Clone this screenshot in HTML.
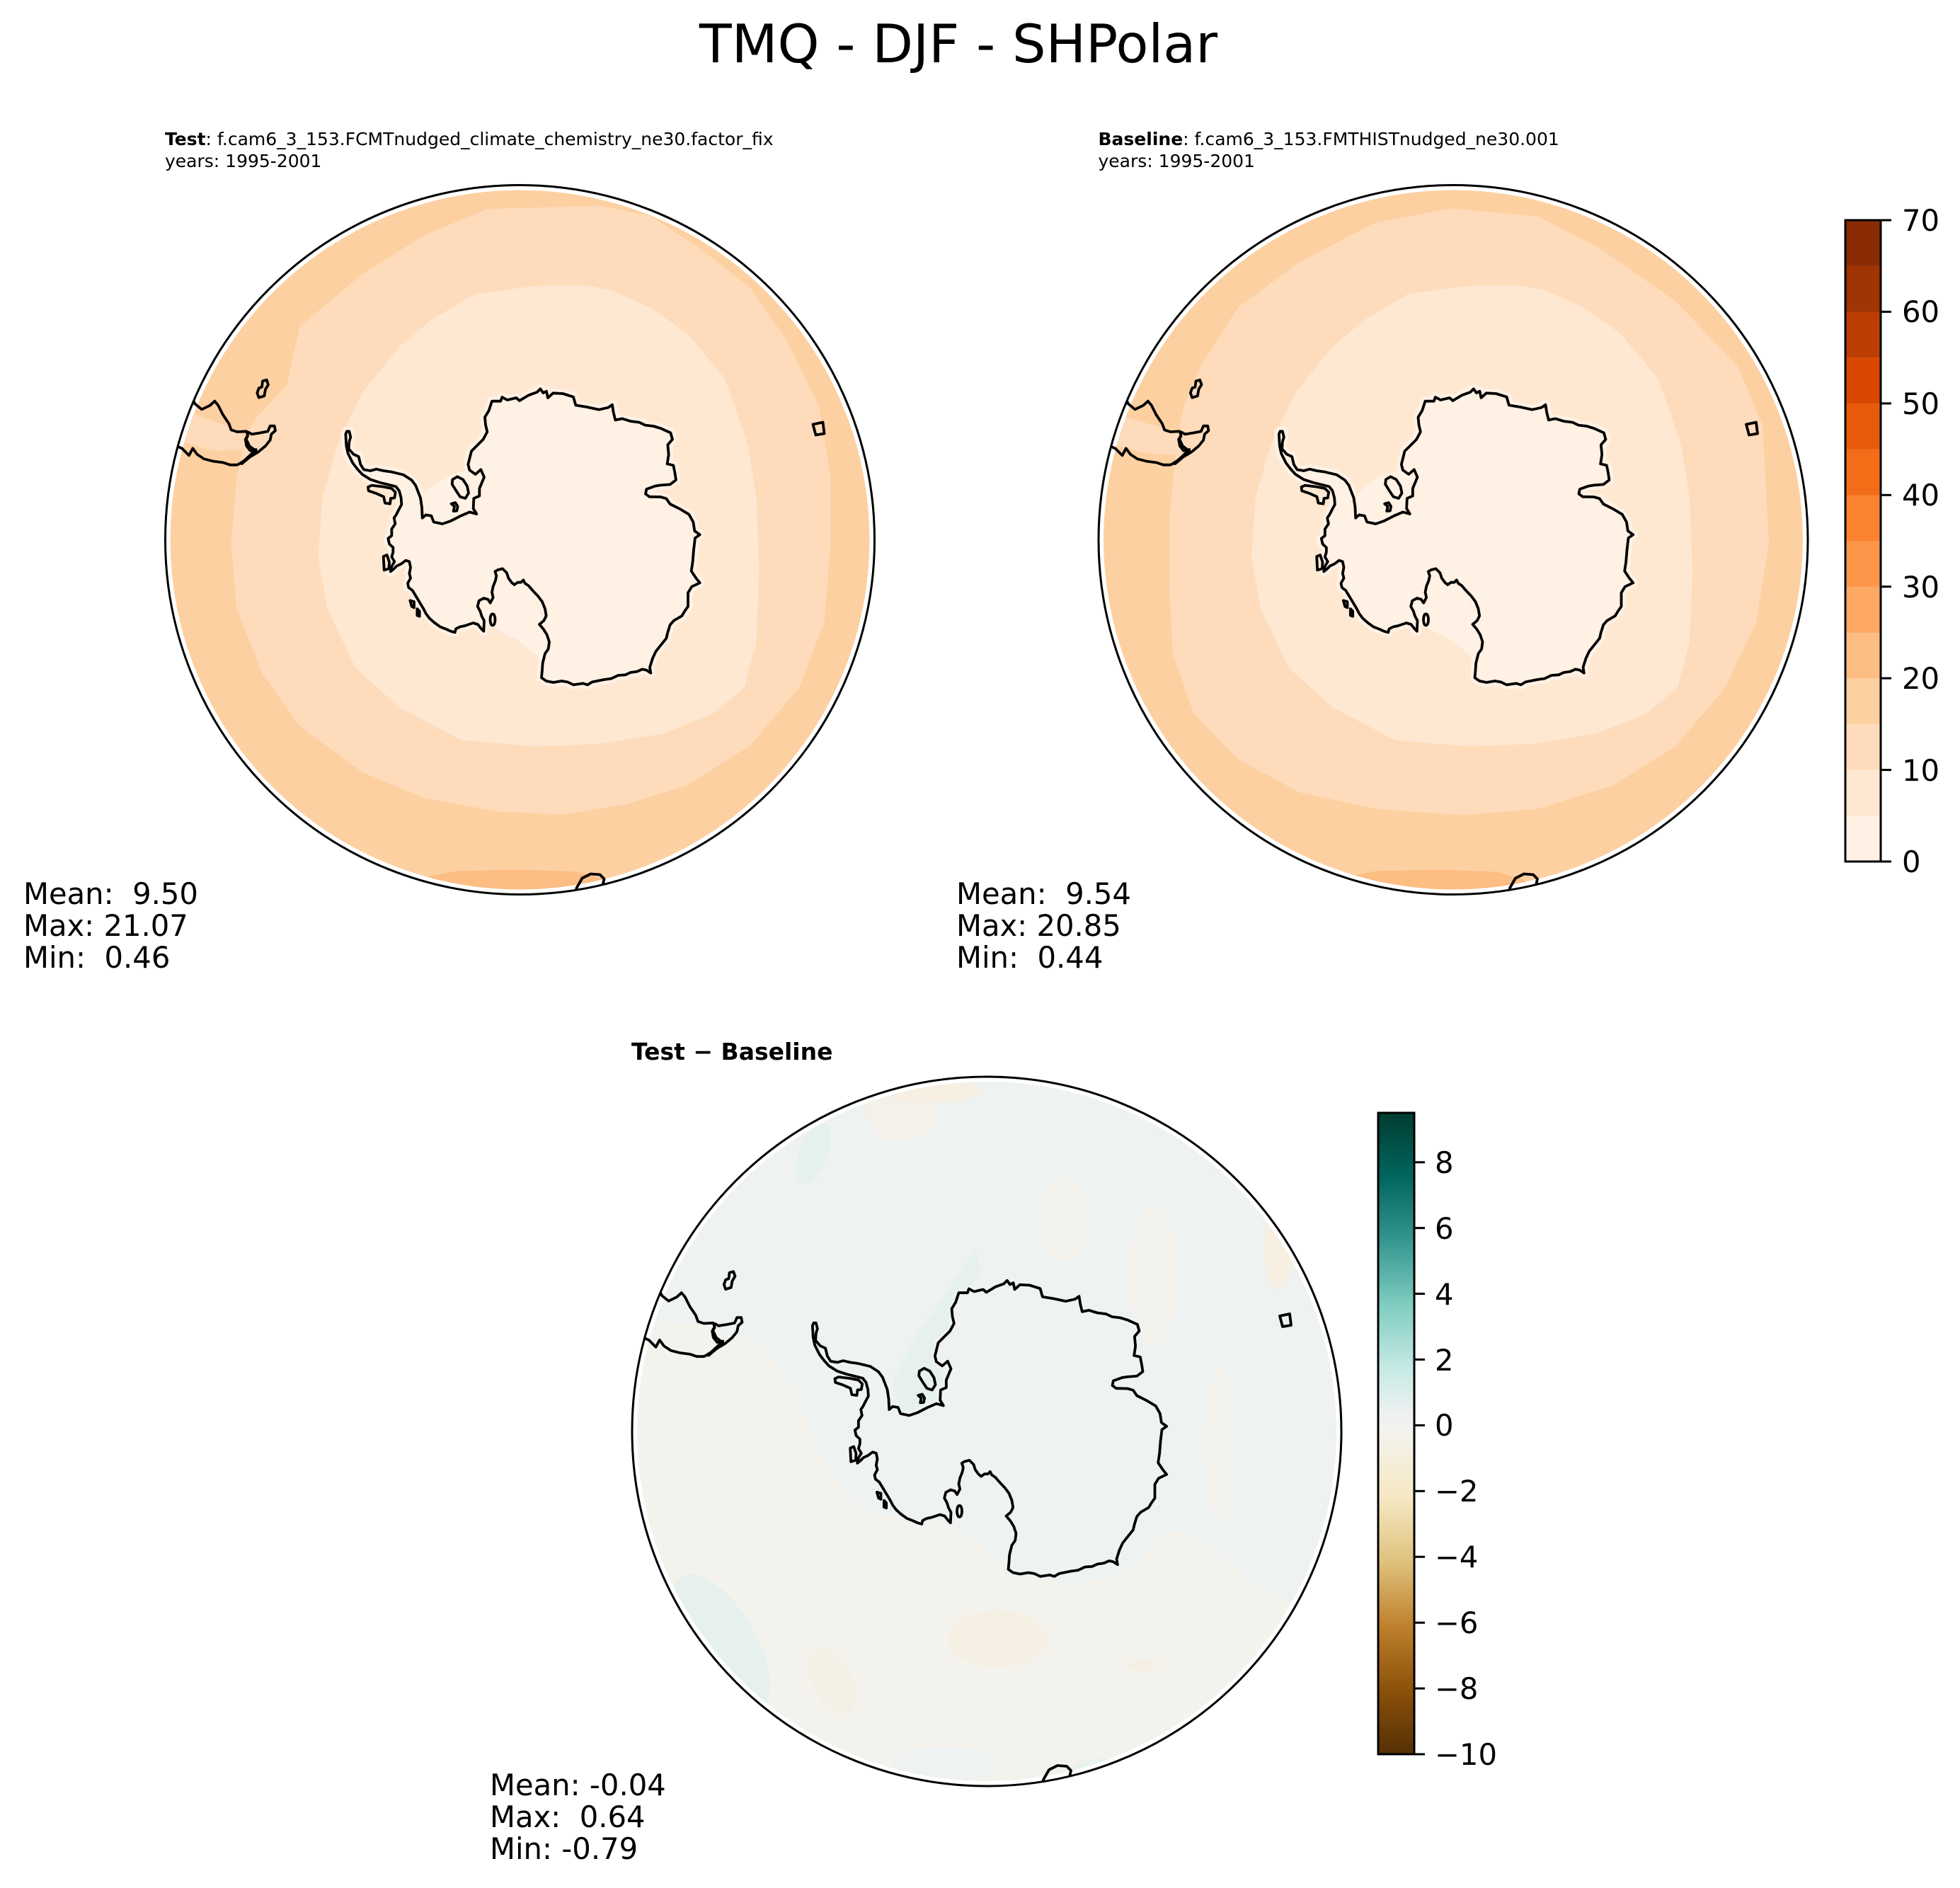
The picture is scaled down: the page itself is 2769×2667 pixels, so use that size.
<!DOCTYPE html>
<html>
<head>
<meta charset="utf-8">
<style>
html,body{margin:0;padding:0;background:#fff;}
svg{display:block;}
text{font-family:"DejaVu Sans","Liberation Sans",sans-serif;white-space:pre;}
</style>
</head>
<body>
<svg xmlns="http://www.w3.org/2000/svg" xmlns:xlink="http://www.w3.org/1999/xlink" width="2769" height="2667" viewBox="0 0 2769 2667">
<defs>
  <clipPath id="cf"><circle cx="0" cy="0" r="494"/></clipPath>
  <clipPath id="cc"><circle cx="0" cy="0" r="500"/></clipPath>
  <path id="ant" d="M 58,300 L 55,250 L 60,238 L 70,238 L 76,262 L 70,282 L 68,312 L 88,335 L 110,345 L 118,378 L 132,400 L 160,405 L 185,398 L 215,405 L 250,410 L 300,422 L 335,445 L 352,468 L 372,520 L 378,560 L 380,605 L 395,592 L 418,596 L 428,622 L 465,630 L 500,618 L 545,595 L 580,580 L 610,588 L 596,565 L 598,522 L 622,512 L 622,480 L 642,432 L 628,400 L 605,420 L 580,402 L 574,378 L 588,322 L 612,298 L 638,272 L 655,240 L 648,210 L 645,178 L 662,150 L 675,110 L 712,110 L 718,93 L 740,105 L 778,96 L 792,108 L 830,85 L 866,72 L 880,58 L 892,75 L 906,68 L 912,96 L 934,76 L 975,78 L 1020,92 L 1030,127 L 1078,135 L 1128,146 L 1168,137 L 1185,125 L 1190,158 L 1198,190 L 1226,184 L 1262,195 L 1300,200 L 1325,212 L 1360,216 L 1392,226 L 1432,244 L 1440,272 L 1420,295 L 1424,336 L 1418,376 L 1444,382 L 1450,412 L 1455,444 L 1430,463 L 1390,466 L 1366,470 L 1330,483 L 1326,503 L 1342,515 L 1390,516 L 1414,523 L 1430,546 L 1470,566 L 1510,590 L 1528,622 L 1534,660 L 1556,676 L 1536,690 L 1530,740 L 1526,790 L 1520,830 L 1540,860 L 1556,880 L 1522,896 L 1506,922 L 1506,980 L 1492,1000 L 1480,1020 L 1446,1040 L 1430,1058 L 1420,1090 L 1414,1115 L 1394,1140 L 1370,1170 L 1356,1200 L 1344,1238 L 1348,1262 L 1330,1250 L 1312,1246 L 1290,1256 L 1262,1260 L 1240,1270 L 1210,1272 L 1180,1286 L 1150,1290 L 1100,1300 L 1080,1312 L 1060,1306 L 1020,1312 L 995,1300 L 970,1296 L 935,1302 L 905,1296 L 885,1282 L 888,1250 L 890,1220 L 900,1180 L 914,1160 L 918,1130 L 908,1100 L 893,1076 L 876,1056 L 895,1040 L 905,1020 L 900,990 L 888,960 L 870,936 L 850,915 L 830,892 L 815,882 L 808,868 L 798,878 L 784,878 L 770,888 L 758,878 L 745,860 L 738,838 L 720,820 L 700,825 L 688,832 L 694,850 L 690,870 L 680,895 L 675,920 L 680,942 L 668,965 L 658,950 L 640,945 L 620,956 L 614,980 L 625,1000 L 632,1022 L 642,1040 L 640,1085 L 630,1075 L 615,1056 L 595,1050 L 560,1062 L 540,1066 L 522,1075 L 518,1090 L 500,1085 L 480,1076 L 455,1066 L 430,1048 L 410,1030 L 395,1010 L 385,990 L 370,965 L 350,932 L 338,912 L 322,900 L 318,882 L 330,860 L 325,840 L 330,815 L 325,790 L 310,785 L 290,800 L 272,808 L 258,822 L 245,832 L 250,810 L 262,790 L 250,770 L 256,750 L 256,730 L 240,715 L 235,692 L 250,680 L 250,652 L 265,630 L 260,605 L 270,590 L 280,570 L 292,548 L 290,520 L 282,490 L 268,472 L 240,465 L 200,455 L 160,442 L 125,420 L 105,398 L 85,372 L 65,332 Z"/>
  <path id="isl" d="M 150,474 L 165,467 L 215,473 L 250,480 L 266,496 L 262,520 L 246,522 L 243,545 L 222,542 L 216,515 L 182,500 L 152,490 Z M 508,442 L 528,430 L 552,442 L 570,470 L 576,500 L 562,522 L 540,515 L 522,488 L 506,462 Z M 503,545 L 520,540 L 530,556 L 526,575 L 512,576 L 516,556 Z M 215,768 L 230,762 L 240,792 L 238,820 L 218,826 Z M 678,1012 C 692,1012 692,1060 678,1060 C 664,1060 664,1012 678,1012 Z M 328,955 L 345,960 L 345,985 L 335,980 Z M 358,990 L 368,1000 L 368,1022 L 358,1018 Z"/>
  <path id="sam" d="M 95,110 L 110,130 L 122,152 L 150,175 L 185,158 L 205,140 L 220,158 L 240,198 L 265,235 L 275,262 L 300,270 L 340,268 L 345,285 L 335,302 L 340,330 L 356,350 L 380,345 L 352,372 L 330,392 L 310,405 L 300,410 L 270,410 L 240,400 L 200,395 L 160,385 L 130,365 L 112,340 L 96,370 L 66,340 L 30,325 M 345,270 L 362,280 L 395,275 L 430,268 L 440,245 L 458,245 L 462,265 L 445,280 L 440,305 L 420,330 L 390,355 L 355,376 L 320,405 L 348,380 L 380,352 L 352,330 L 338,300 L 346,286 M 392,85 L 405,80 L 408,55 L 425,50 L 432,70 L 420,90 L 415,118 L 392,125 L 385,105 Z"/>
  <path id="oth" d="M 414,-163 L 428,-166 L 430,-150 L 418,-148 Z M 78,512 L 80,492 L 88,478 L 100,472 L 113,473 L 119,479 L 117,488 L 110,493 L 109,512"/>
  <path id="b3" d="M 25,-359 L 96,-359 L 131,-352 L 184,-328 L 237,-291 L 290,-227 L 322,-134 L 334,-60 L 338,43 L 334,144 L 317,209 L 272,246 L 202,274 L 114,288 L 25,292 L -82,283 L -170,237 L -232,181 L -272,98 L -285,24 L -279,-60 L -258,-134 L -223,-208 L -170,-273 L -126,-310 L -64,-347 Z"/>
  <path id="ross" d="M 620,960 L 640,1040 L 690,1075 L 780,1120 L 865,1185 L 900,1300 L 905,1100 L 880,1000 L 830,892 L 745,860 L 700,825 L 680,940 Z M 372,520 L 380,605 L 395,592 L 418,596 L 428,622 L 465,630 L 500,618 L 545,595 L 610,588 L 598,522 L 622,480 L 642,432 L 628,400 L 580,402 L 540,410 L 480,430 L 420,470 Z"/>
  <linearGradient id="brbg" x1="0" y1="1" x2="0" y2="0">
    <stop offset="0" stop-color="#543005"/>
    <stop offset="0.1" stop-color="#8c510a"/>
    <stop offset="0.2" stop-color="#bf812d"/>
    <stop offset="0.3" stop-color="#dfc27d"/>
    <stop offset="0.4" stop-color="#f6e8c3"/>
    <stop offset="0.5" stop-color="#f4f2ec"/>
    <stop offset="0.53" stop-color="#eef1f1"/>
    <stop offset="0.6" stop-color="#c7eae5"/>
    <stop offset="0.7" stop-color="#80cdc1"/>
    <stop offset="0.8" stop-color="#35978f"/>
    <stop offset="0.9" stop-color="#01665e"/>
    <stop offset="1" stop-color="#003c30"/>
  </linearGradient>
</defs>

<rect x="0" y="0" width="2769" height="2667" fill="#fff"/>

<!-- Main title -->
<text x="1354" y="88" font-size="75" text-anchor="middle" fill="#000">TMQ - DJF - SHPolar</text>

<!-- ============ Panel 1 ============ -->
<text x="233" y="205" font-size="25" fill="#000"><tspan font-weight="bold">Test</tspan>: f.cam6_3_153.FCMTnudged_climate_chemistry_ne30.factor_fix</text>
<text x="233" y="236" font-size="25" fill="#000">years: 1995-2001</text>
<g transform="translate(734.5,762.5)">
  <g clip-path="url(#cf)">
    <circle r="494" fill="#fdd0a2"/>
    <path d="M -200,520 L -140,478 L -90,468 L 0,466 L 80,469 L 120,480 L 160,520 Z" fill="#fdbd83"/>
    <path d="M -329,-219 L -311,-301 L -223,-375 L -135,-430 L -46,-467 L 113,-472 L 183,-458 L 254,-412 L 325,-356 L 377,-282 L 422,-190 L 439,-88 L 439,4 L 430,115 L 395,208 L 325,291 L 236,347 L 148,374 L 60,388 L -29,384 L -135,365 L -223,328 L -311,263 L -364,189 L -400,97 L -408,4 L -400,-88 L -392,-127 L -433,-126 L -500,-146 L -500,-180 L -460,-177 L -416,-162 L -389,-146 L -370,-175 Z" fill="#fedcbb"/>
    <use href="#b3" fill="#fee8d2"/>
    <g transform="translate(-264.5,-232.5) scale(0.333333)">
      <use href="#ant" fill="#fff1e3" stroke="#fff1e3" stroke-width="40" stroke-linejoin="round"/>
      <use href="#ross" fill="#fff1e3"/>
    </g>
  </g>
  <g clip-path="url(#cc)">
    <g transform="translate(-264.5,-232.5) scale(0.333333)" fill="none" stroke="#000" stroke-width="11.4" stroke-linejoin="round">
      <use href="#ant"/>
      <use href="#isl"/>
    </g>
    <g transform="translate(-499.5,-242.5) scale(0.333333)" fill="none" stroke="#000" stroke-width="11.4" stroke-linejoin="round">
      <use href="#sam"/>
    </g>
    <use href="#oth" fill="none" stroke="#000" stroke-width="3.8" stroke-linejoin="round"/>
  </g>
  <circle r="501" fill="none" stroke="#000" stroke-width="3"/>
</g>
<text x="33" y="1277" font-size="41.7" fill="#000">Mean:  9.50</text>
<text x="33" y="1322" font-size="41.7" fill="#000">Max: 21.07</text>
<text x="33" y="1367" font-size="41.7" fill="#000">Min:  0.46</text>

<!-- ============ Panel 2 ============ -->
<text x="1551.5" y="205" font-size="25" fill="#000"><tspan font-weight="bold">Baseline</tspan>: f.cam6_3_153.FMTHISTnudged_ne30.001</text>
<text x="1551.5" y="236" font-size="25" fill="#000">years: 1995-2001</text>
<g transform="translate(2053,762.5)">
  <g clip-path="url(#cf)">
    <circle r="494" fill="#fdd0a2"/>
    <path d="M -210,520 L -160,478 L -110,468 L -20,466 L 60,469 L 100,480 L 140,520 Z" fill="#fdbd83"/>
    <path d="M -357,-245 L -304,-328 L -216,-393 L -110,-448 L -4,-468 L 120,-457 L 208,-411 L 314,-337 L 402,-245 L 437,-162 L 446,5 L 428,116 L 384,209 L 314,292 L 225,347 L 120,380 L 13,389 L -110,380 L -216,357 L -304,310 L -366,246 L -396,162 L -401,70 L -400,-40 L -392,-120 L -433,-122 L -500,-140 L -500,-175 L -460,-172 L -416,-160 L -389,-150 L -380,-190 Z" fill="#fedcbb"/>
    <use href="#b3" fill="#fee8d2"/>
    <g transform="translate(-264.5,-232.5) scale(0.333333)">
      <use href="#ant" fill="#fff1e3" stroke="#fff1e3" stroke-width="40" stroke-linejoin="round"/>
      <use href="#ross" fill="#fff1e3"/>
    </g>
  </g>
  <g clip-path="url(#cc)">
    <g transform="translate(-264.5,-232.5) scale(0.333333)" fill="none" stroke="#000" stroke-width="11.4" stroke-linejoin="round">
      <use href="#ant"/>
      <use href="#isl"/>
    </g>
    <g transform="translate(-499.5,-242.5) scale(0.333333)" fill="none" stroke="#000" stroke-width="11.4" stroke-linejoin="round">
      <use href="#sam"/>
    </g>
    <use href="#oth" fill="none" stroke="#000" stroke-width="3.8" stroke-linejoin="round"/>
  </g>
  <circle r="501" fill="none" stroke="#000" stroke-width="3"/>
</g>
<text x="1351" y="1277" font-size="41.7" fill="#000">Mean:  9.54</text>
<text x="1351" y="1322" font-size="41.7" fill="#000">Max: 20.85</text>
<text x="1351" y="1367" font-size="41.7" fill="#000">Min:  0.44</text>

<!-- Oranges colorbar -->
<g>
  <rect x="2607" y="1152.3" width="50" height="64.9" fill="#fff1e3"/>
  <rect x="2607" y="1087.6" width="50" height="64.9" fill="#fee8d2"/>
  <rect x="2607" y="1022.9" width="50" height="64.9" fill="#fedcbb"/>
  <rect x="2607" y="958.1" width="50" height="64.9" fill="#fdd0a2"/>
  <rect x="2607" y="893.4" width="50" height="64.9" fill="#fdbd83"/>
  <rect x="2607" y="828.7" width="50" height="64.9" fill="#fda964"/>
  <rect x="2607" y="764.0" width="50" height="64.9" fill="#fd9649"/>
  <rect x="2607" y="699.3" width="50" height="64.9" fill="#fa8330"/>
  <rect x="2607" y="634.6" width="50" height="64.9" fill="#f36d19"/>
  <rect x="2607" y="569.9" width="50" height="64.9" fill="#e75b0b"/>
  <rect x="2607" y="505.1" width="50" height="64.9" fill="#d94801"/>
  <rect x="2607" y="440.4" width="50" height="64.9" fill="#bc3e02"/>
  <rect x="2607" y="375.7" width="50" height="64.9" fill="#a03403"/>
  <rect x="2607" y="311.0" width="50" height="64.9" fill="#8a2b04"/>
  <rect x="2607" y="311" width="50" height="906" fill="none" stroke="#000" stroke-width="3"/>
  <g stroke="#000" stroke-width="3">
    <line x1="2657" y1="1217" x2="2672" y2="1217"/>
    <line x1="2657" y1="1087.6" x2="2672" y2="1087.6"/>
    <line x1="2657" y1="958.1" x2="2672" y2="958.1"/>
    <line x1="2657" y1="828.7" x2="2672" y2="828.7"/>
    <line x1="2657" y1="699.3" x2="2672" y2="699.3"/>
    <line x1="2657" y1="569.9" x2="2672" y2="569.9"/>
    <line x1="2657" y1="440.4" x2="2672" y2="440.4"/>
    <line x1="2657" y1="311" x2="2672" y2="311"/>
  </g>
  <g font-size="41.7" fill="#000">
    <text x="2687" y="1232">0</text>
    <text x="2687" y="1103">10</text>
    <text x="2687" y="973">20</text>
    <text x="2687" y="844">30</text>
    <text x="2687" y="714">40</text>
    <text x="2687" y="585">50</text>
    <text x="2687" y="455">60</text>
    <text x="2687" y="326">70</text>
  </g>
</g>

<!-- ============ Panel 3 ============ -->
<text x="892" y="1497" font-size="33" font-weight="bold" fill="#000">Test − Baseline</text>
<g transform="translate(1394,2022)">
  <g clip-path="url(#cf)">
    <circle r="494" fill="#f4f2ec"/>
    <path d="M -494,-494 L 494,-494 L 494,250 L 420,240 L 360,200 L 300,150 L 250,140 L 200,200 L 120,215 L 40,200 L -20,150 L -80,110 L -150,120 L -200,90 L -240,20 L -270,-60 L -320,-120 L -400,-150 L -494,-160 Z" fill="#eef2f1"/>
    <!-- faint warm patches -->
    <ellipse cx="-120" cy="-450" rx="50" ry="40" fill="#f4f1ea"/>
    <ellipse cx="-80" cy="-482" rx="70" ry="18" fill="#f6efe2"/>
    <ellipse cx="110" cy="-300" rx="35" ry="60" fill="#f4f2ec"/>
    <ellipse cx="235" cy="-220" rx="35" ry="100" fill="#f4f2ec"/>
    <ellipse cx="412" cy="-257" rx="20" ry="55" fill="#f6efe2"/>
    <ellipse cx="330" cy="20" rx="22" ry="110" fill="#f4f2ec"/>
    <ellipse cx="15" cy="293" rx="70" ry="40" fill="#f6efe3"/>
    <ellipse cx="-218" cy="353" rx="28" ry="50" fill="#f5f0e6" transform="rotate(-25,-218,353)"/>
    <ellipse cx="220" cy="330" rx="20" ry="8" fill="#f6efe3"/>
    <!-- faint green patches -->
    <ellipse cx="-245" cy="-393" rx="20" ry="45" fill="#e5f1ed" transform="rotate(20,-245,-393)"/>
    <path d="M -107,-124 L -15,-257 L -8,-224 L -54,-151 L -61,-91 L -67,-31 L -120,-25 L -133,-71 Z" fill="#e6f1ed"/>
    <ellipse cx="-376" cy="300" rx="50" ry="110" fill="#e6f1ed" transform="rotate(-30,-376,300)"/>
    <ellipse cx="170" cy="482" rx="50" ry="20" fill="#e8f1ee"/>
    <ellipse cx="-60" cy="470" rx="70" ry="25" fill="#eef2f1"/>
    <g transform="translate(-264.5,-232.5) scale(0.333333)">
      <use href="#ant" fill="#eef2f1" stroke="#eef2f1" stroke-width="30" stroke-linejoin="round"/>
    </g>
  </g>
  <g clip-path="url(#cc)">
    <g transform="translate(-264.5,-232.5) scale(0.333333)" fill="none" stroke="#000" stroke-width="11.4" stroke-linejoin="round">
      <use href="#ant"/>
      <use href="#isl"/>
    </g>
    <g transform="translate(-499.5,-242.5) scale(0.333333)" fill="none" stroke="#000" stroke-width="11.4" stroke-linejoin="round">
      <use href="#sam"/>
    </g>
    <use href="#oth" fill="none" stroke="#000" stroke-width="3.8" stroke-linejoin="round"/>
  </g>
  <circle r="501" fill="none" stroke="#000" stroke-width="3"/>
</g>
<text x="692" y="2536" font-size="41.7" fill="#000">Mean: -0.04</text>
<text x="692" y="2581" font-size="41.7" fill="#000">Max:  0.64</text>
<text x="692" y="2626" font-size="41.7" fill="#000">Min: -0.79</text>

<!-- BrBG colorbar -->
<g>
  <rect x="1947" y="1572" width="51" height="906" fill="url(#brbg)"/>
  <rect x="1947" y="1572" width="51" height="906" fill="none" stroke="#000" stroke-width="3"/>
  <g stroke="#000" stroke-width="3">
    <line x1="1998" y1="2478" x2="2013" y2="2478"/>
    <line x1="1998" y1="2385.1" x2="2013" y2="2385.1"/>
    <line x1="1998" y1="2292.2" x2="2013" y2="2292.2"/>
    <line x1="1998" y1="2199.2" x2="2013" y2="2199.2"/>
    <line x1="1998" y1="2106.3" x2="2013" y2="2106.3"/>
    <line x1="1998" y1="2013.4" x2="2013" y2="2013.4"/>
    <line x1="1998" y1="1920.5" x2="2013" y2="1920.5"/>
    <line x1="1998" y1="1827.6" x2="2013" y2="1827.6"/>
    <line x1="1998" y1="1734.7" x2="2013" y2="1734.7"/>
    <line x1="1998" y1="1641.8" x2="2013" y2="1641.8"/>
  </g>
  <g font-size="41.7" fill="#000">
    <text x="2027" y="2493">−10</text>
    <text x="2027" y="2400">−8</text>
    <text x="2027" y="2307">−6</text>
    <text x="2027" y="2214">−4</text>
    <text x="2027" y="2121">−2</text>
    <text x="2027" y="2028">0</text>
    <text x="2027" y="1936">2</text>
    <text x="2027" y="1843">4</text>
    <text x="2027" y="1750">6</text>
    <text x="2027" y="1657">8</text>
  </g>
</g>
</svg>
</body>
</html>
